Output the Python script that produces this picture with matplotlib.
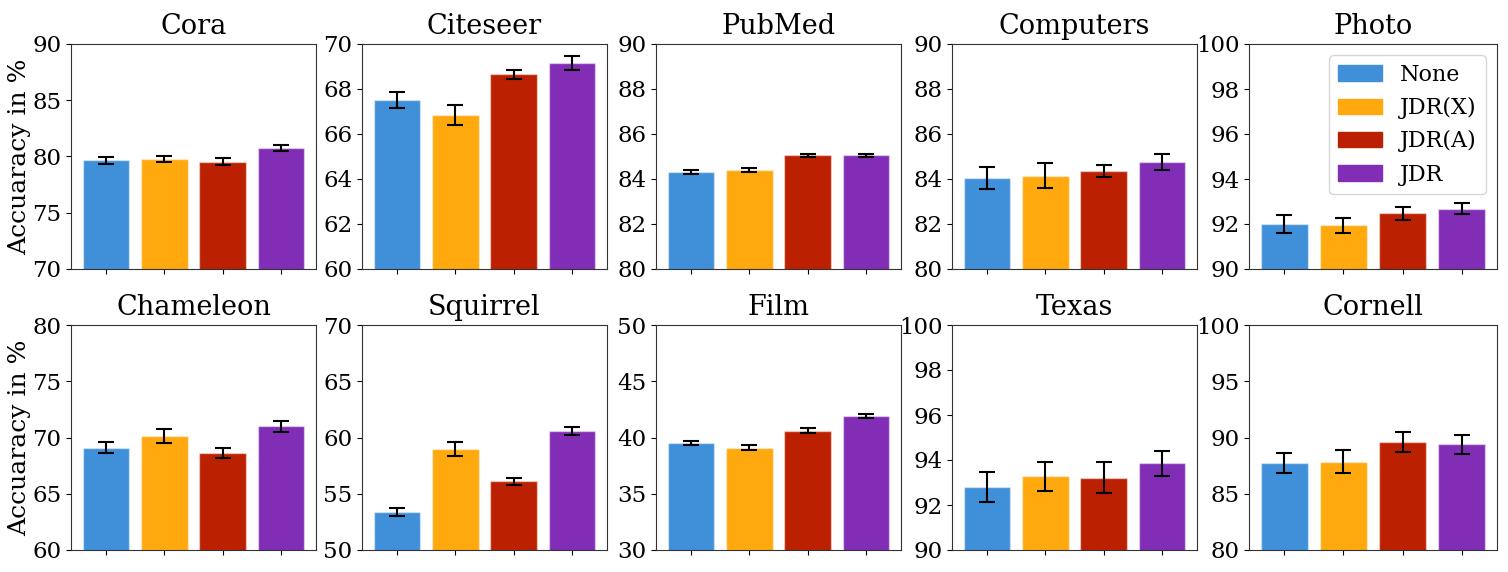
import numpy as np
import matplotlib
matplotlib.use("Agg")
import matplotlib.pyplot as plt

plt.rcParams['font.family'] = 'DejaVu Serif'

methods = ["None", "JDR(X)", "JDR(A)", "JDR"]
colors = ["#3f8fd9", "#ffa90f", "#bb2000", "#822db5"]

datasets = ["Cora", "Citeseer", "PubMed", "Computers", "Photo",
            "Chameleon", "Squirrel", "Film", "Texas", "Cornell"]

means = [
    [79.65, 79.75, 79.55, 80.75],
    [67.5, 66.85, 68.65, 69.15],
    [84.32, 84.4, 85.05, 85.05],
    [84.05, 84.15, 84.35, 84.75],
    [92.0, 91.95, 92.47, 92.68],
    [69.1, 70.15, 68.65, 71.0],
    [53.4, 59.0, 56.1, 60.6],
    [39.5, 39.1, 40.6, 41.9],
    [92.8, 93.27, 93.22, 93.85],
    [87.75, 87.85, 89.6, 89.4],
]
stds = [
    [0.3, 0.25, 0.3, 0.3],
    [0.35, 0.45, 0.2, 0.3],
    [0.1, 0.1, 0.08, 0.08],
    [0.5, 0.55, 0.28, 0.35],
    [0.42, 0.33, 0.28, 0.25],
    [0.5, 0.6, 0.45, 0.5],
    [0.35, 0.6, 0.3, 0.35],
    [0.2, 0.2, 0.2, 0.2],
    [0.68, 0.63, 0.67, 0.55],
    [0.9, 1.0, 0.85, 0.85],
]
ylims = [(70, 90), (60, 70), (80, 90), (80, 90), (90, 100),
         (60, 80), (50, 70), (30, 50), (90, 100), (80, 100)]
ysteps = [5, 2, 2, 2, 2, 5, 5, 5, 2, 5]

W, H = 1508, 572
fig = plt.figure(figsize=(W / 100, H / 100), dpi=100)

lefts = [71, 362, 656, 952, 1249]
widths = [245, 245, 245, 245, 248]
tops = [44, 325]
ax_h = 225

x = np.arange(len(methods))
for i, name in enumerate(datasets):
    r, c = divmod(i, 5)
    ax = fig.add_axes([lefts[c] / W, 1 - (tops[r] + ax_h) / H,
                       widths[c] / W, ax_h / H])
    ax.bar(x, means[i], width=0.8, color=colors,
           edgecolor=(1, 1, 1, 0.45), linewidth=1.0)
    ax.errorbar(x, means[i], yerr=stds[i], fmt='none', ecolor='black',
                elinewidth=1.5, capsize=6, capthick=1.5)
    lo, hi = ylims[i]
    ax.set_ylim(lo, hi)
    ax.set_yticks(np.arange(lo, hi + 0.01, ysteps[i]))
    ax.set_xticks(x)
    ax.set_xticklabels([])
    ax.set_xlim(-0.6, 3.6)
    ax.tick_params(axis='y', labelsize=16.5)
    ax.set_title(name, fontsize=19.5, pad=7)
    for s in ax.spines.values():
        s.set_color('#333333')
    if c == 0:
        ax.set_ylabel("Accuaracy in %", fontsize=18, labelpad=1)
    if name == "Photo":
        handles = [plt.Rectangle((0, 0), 1, 1, color=col) for col in colors]
        ax.legend(handles, methods, loc='upper right', fontsize=16)

fig.savefig("out.png", dpi=100)
